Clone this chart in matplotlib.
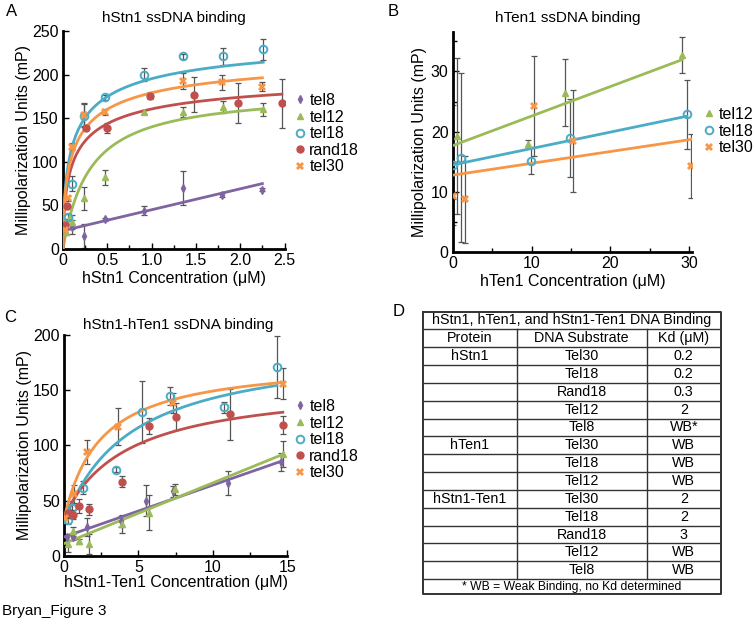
import numpy as np
import matplotlib.pyplot as plt
from matplotlib.ticker import MultipleLocator

plt.rcParams['font.family'] = ['Liberation Sans', 'DejaVu Sans']
plt.rcParams['font.size'] = 11

# Office palette, one colour per substrate
COLORS = {'tel8': '#8064A2', 'tel12': '#9BBB59', 'tel18': '#4BACC6',
          'rand18': '#C0504D', 'tel30': '#F79646'}
MARKERS = {'tel8': dict(marker='d', ms=4, mfc=COLORS['tel8']),
           'tel12': dict(marker='^', ms=4.5, mfc=COLORS['tel12']),
           'tel18': dict(marker='o', ms=5.5, mfc='none', mew=1.4),
           'rand18': dict(marker='o', ms=5, mfc=COLORS['rand18']),
           'tel30': dict(marker='X', ms=6, mfc=COLORS['tel30'], mew=0)}

# ---- panel A: hStn1 ----
a_tel8_x = [0.0, 0.1, 0.24, 0.47, 0.91, 1.35, 1.80, 2.25]
a_tel8_y = [22, 25, 15, 34, 44, 70, 62, 68]
a_tel8_err = [3, 8, 14, 2, 5, 19, 2, 2]
a_tel12_x = [0.03, 0.1, 0.24, 0.47, 0.91, 1.36, 1.81, 2.26]
a_tel12_y = [20, 31, 58, 82, 157, 157, 163, 160]
a_tel12_err = [4, 8, 13, 9, 2, 6, 7, 7]
a_tel18_x = [0.0, 0.06, 0.105, 0.24, 0.47, 0.91, 1.36, 1.81, 2.26]
a_tel18_y = [25, 37, 75, 153, 174, 200, 221, 221, 229]
a_tel18_err = [2, 3, 9, 13, 3, 7, 3, 10, 12]
a_rand18_x = [0.025, 0.05, 0.26, 0.5, 0.98, 1.48, 1.97, 2.47]
a_rand18_y = [27, 49, 139, 139, 176, 177, 167, 167]
a_rand18_err = [3, 3, 3, 6, 4, 20, 23, 28]
a_tel30_x = [0.02, 0.06, 0.1, 0.24, 0.47, 1.35, 1.80, 2.25]
a_tel30_y = [22, 58, 117, 154, 157, 193, 191, 186]
a_tel30_err = [3, 3, 4, 13, 3, 9, 9, 5]
# fit parameters: Hill (Bmax, K, n) or straight line (intercept, slope)
a_fit_hill = {'tel12': (182, 0.30, 1.0), 'tel18': (253, 0.131, 0.6),
              'rand18': (208, 0.131, 0.6), 'tel30': (232, 0.131, 0.6)}
a_fit_line = {'tel8': (21, 24)}

# ---- panel B: hTen1 ----
b_tel12_x = [0.6, 9.5, 14.3, 29.1]
b_tel12_y = [19.3, 18.0, 26.5, 32.8]
b_tel12_err = [13, 0.6, 5.5, 3]
b_tel18_x = [0.0, 1.05, 9.9, 14.9, 29.7]
b_tel18_y = [14.5, 15.7, 15.2, 19.0, 22.9]
b_tel18_err = [10, 14, 2.2, 6.5, 5.7]
b_tel30_x = [0.1, 1.6, 10.35, 15.3, 30.2]
b_tel30_y = [9.4, 8.8, 24.3, 18.5, 14.3]
b_tel30_err = [0.5, 7.2, 8.3, 8.5, 5.3]
b_fit_line = {'tel12': (17.7, 0.49), 'tel18': (14.5, 0.272), 'tel30': (12.8, 0.196)}

# ---- panel C: hStn1-Ten1 ----
c_tel8_x = [0.2, 0.6, 1.52, 3.8, 5.5, 7.3, 11.0, 14.6]
c_tel8_y = [17, 17, 26, 31, 50, 58.6, 65.6, 85]
c_tel8_err = [3, 3, 8, 5, 14, 5, 11, 8]
c_tel12_x = [0.3, 0.6, 1.0, 1.7, 3.9, 5.7, 7.45, 14.7]
c_tel12_y = [11, 22, 13, 10.6, 29, 39, 60, 92]
c_tel12_err = [8, 4, 2, 9, 8, 16, 5, 12]
c_tel18_x = [0.29, 0.52, 1.3, 3.47, 5.26, 7.12, 10.75, 14.3]
c_tel18_y = [32, 43, 61.6, 78, 130.5, 144.7, 134.5, 170.7]
c_tel18_err = [3, 4, 6, 2, 28, 8, 5, 28]
c_rand18_x = [0.29, 0.63, 1.0, 1.7, 3.87, 5.7, 7.5, 11.15, 14.7]
c_rand18_y = [38.5, 37, 45, 42, 67, 117.5, 126, 128, 118.5]
c_rand18_err = [4, 4, 6, 5, 5, 7, 12, 23, 8]
c_tel30_x = [0.07, 0.7, 1.52, 3.65, 7.3, 14.7]
c_tel30_y = [34, 56, 94, 117, 138, 156]
c_tel30_err = [4, 8, 11, 17, 9, 14]
# hyperbola with offset (y0, Bmax, K) or straight line (intercept, slope)
c_fit_hyp = {'tel18': (30, 163, 4.46), 'rand18': (35, 122.8, 4.3),
             'tel30': (33, 144.7, 2.45)}
c_fit_line = {'tel8': (17, 4.7), 'tel12': (11, 5.5)}

# ---- panel D table ----
table_title = 'hStn1, hTen1, and hStn1-Ten1 DNA Binding'
table_header = ['Protein', 'DNA Substrate', 'Kd (\u03bcM)']
proteins = ['hStn1', '', '', '', '', 'hTen1', '', '', 'hStn1-Ten1', '', '', '', '']
substrates = ['Tel30', 'Tel18', 'Rand18', 'Tel12', 'Tel8', 'Tel30', 'Tel18',
              'Tel12', 'Tel30', 'Tel18', 'Rand18', 'Tel12', 'Tel8']
kd_values = ['0.2', '0.2', '0.3', '2', 'WB*', 'WB', 'WB', 'WB', '2', '2', '3', 'WB', 'WB']
table_note = '* WB = Weak Binding, no Kd determined'


W, H = 754, 635
fig = plt.figure(figsize=(W / 100, H / 100), dpi=100)


def px_axes(left, top, right, bottom):
    return fig.add_axes([left / W, 1 - bottom / H, (right - left) / W, (bottom - top) / H])


def style_axes(ax):
    for s in ['top', 'right']:
        ax.spines[s].set_visible(False)
    for s in ['left', 'bottom']:
        ax.spines[s].set_linewidth(2)
    ax.tick_params(which='major', direction='in', length=4, width=1, labelsize=11.5, pad=3)
    ax.tick_params(which='minor', direction='in', length=3, width=1)


def plot_series(ax, name, x, y, err):
    ax.errorbar(x, y, yerr=err, fmt='none', ecolor='#555555', elinewidth=0.9,
                capsize=2, capthick=0.9, zorder=2)
    ax.plot(x, y, ls='none', color=COLORS[name], label=name, zorder=4, **MARKERS[name])


def add_legend(ax, x, y):
    ax.legend(loc='upper left', bbox_to_anchor=(x / W, 1 - y / H), bbox_transform=fig.transFigure,
              frameon=False, fontsize=11.5, handlelength=0.6, handletextpad=0.3,
              labelspacing=0.1, borderaxespad=0, borderpad=0)


# A
axA = px_axes(63, 31, 284.5, 249)
series_a = [('tel8', a_tel8_x, a_tel8_y, a_tel8_err), ('tel12', a_tel12_x, a_tel12_y, a_tel12_err),
            ('tel18', a_tel18_x, a_tel18_y, a_tel18_err), ('rand18', a_rand18_x, a_rand18_y, a_rand18_err),
            ('tel30', a_tel30_x, a_tel30_y, a_tel30_err)]
for name, x, y, err in series_a:
    xs = np.linspace(0, max(x), 300)
    if name in a_fit_hill:
        bmax, k, n = a_fit_hill[name]
        ys = bmax * xs ** n / (k ** n + xs ** n)
    else:
        b0, b1 = a_fit_line[name]
        ys = b0 + b1 * xs
    axA.plot(xs, ys, color=COLORS[name], lw=2, zorder=3)
    plot_series(axA, name, x, y, err)
axA.set_xlim(0, 2.5)
axA.set_ylim(0, 250)
axA.xaxis.set_major_locator(MultipleLocator(0.5))
axA.xaxis.set_minor_locator(MultipleLocator(0.25))
axA.yaxis.set_major_locator(MultipleLocator(50))
axA.xaxis.set_major_formatter(plt.FuncFormatter(lambda v, p: '0' if v == 0 else f'{v:.1f}'))
axA.set_xlabel('hStn1 Concentration (\u03bcM)', fontsize=11.5, labelpad=2)
axA.set_ylabel('Millipolarization Units (mP)', fontsize=11.5, labelpad=1)
style_axes(axA)
add_legend(axA, 295, 93)
fig.text(174 / W, 1 - 18 / H, 'hStn1 ssDNA binding', ha='center', va='center', fontsize=11)
fig.text(6 / W, 1 - 12 / H, 'A', ha='left', va='center', fontsize=12)

# B
axB = px_axes(452.7, 31.7, 692, 252.3)
series_b = [('tel12', b_tel12_x, b_tel12_y, b_tel12_err), ('tel18', b_tel18_x, b_tel18_y, b_tel18_err),
            ('tel30', b_tel30_x, b_tel30_y, b_tel30_err)]
for name, x, y, err in series_b:
    b0, b1 = b_fit_line[name]
    xs = np.array([0, max(x)])
    axB.plot(xs, b0 + b1 * xs, color=COLORS[name], lw=2, zorder=3)
    plot_series(axB, name, x, y, err)
axB.set_xlim(0, 30.35)
axB.set_ylim(0, 36.6)
axB.xaxis.set_major_locator(MultipleLocator(10))
axB.xaxis.set_minor_locator(MultipleLocator(5))
axB.yaxis.set_major_locator(MultipleLocator(10))
axB.yaxis.set_minor_locator(MultipleLocator(5))
axB.set_xlabel('hTen1 Concentration (\u03bcM)', fontsize=11.5, labelpad=2)
axB.set_ylabel('Millipolarization Units (mP)', fontsize=11.5, labelpad=3)
style_axes(axB)
add_legend(axB, 704, 107)
fig.text(568 / W, 1 - 18 / H, 'hTen1 ssDNA binding', ha='center', va='center', fontsize=11)
fig.text(388 / W, 1 - 12 / H, 'B', ha='left', va='center', fontsize=12)

# C
axC = px_axes(64, 335, 287.3, 555.7)
series_c = [('tel8', c_tel8_x, c_tel8_y, c_tel8_err), ('tel12', c_tel12_x, c_tel12_y, c_tel12_err),
            ('tel18', c_tel18_x, c_tel18_y, c_tel18_err), ('rand18', c_rand18_x, c_rand18_y, c_rand18_err),
            ('tel30', c_tel30_x, c_tel30_y, c_tel30_err)]
for name, x, y, err in series_c:
    xs = np.linspace(0, max(x), 300)
    if name in c_fit_hyp:
        y0, bmax, k = c_fit_hyp[name]
        ys = y0 + bmax * xs / (k + xs)
    else:
        b0, b1 = c_fit_line[name]
        ys = b0 + b1 * xs
    axC.plot(xs, ys, color=COLORS[name], lw=2, zorder=3)
    plot_series(axC, name, x, y, err)
axC.set_xlim(0, 15)
axC.set_ylim(0, 200)
axC.xaxis.set_major_locator(MultipleLocator(5))
axC.xaxis.set_minor_locator(MultipleLocator(2.5))
axC.yaxis.set_major_locator(MultipleLocator(50))
axC.set_xlabel('hStn1-Ten1 Concentration (\u03bcM)', fontsize=11.5, labelpad=0)
axC.set_ylabel('Millipolarization Units (mP)', fontsize=11.5, labelpad=1)
style_axes(axC)
add_legend(axC, 295, 399)
fig.text(178 / W, 1 - 325 / H, 'hStn1-hTen1 ssDNA binding', ha='center', va='center', fontsize=11)
fig.text(4 / W, 1 - 318 / H, 'C', ha='left', va='center', fontsize=12)

fig.text(2 / W, 1 - 611 / H, 'Bryan_Figure 3', ha='left', va='center', fontsize=11)

# D table drawn on a pixel-unit axes
t_left, t_right, t_top, t_bottom = 423, 721, 311.5, 594
col_edges = [t_left, 516.7, 646.7, t_right]
axD = px_axes(t_left, t_top, t_right, t_bottom)
axD.set_xlim(t_left, t_right)
axD.set_ylim(t_bottom, t_top)
axD.axis('off')
fig.text(393 / W, 1 - 312 / H, 'D', ha='left', va='center', fontsize=12)

n_rows = len(substrates)
row_h = (t_bottom - t_top) / (n_rows + 2 + 0.83)
edges = [t_top + i * row_h for i in range(n_rows + 3)] + [t_bottom]
line_kw = dict(color='#333333', lw=1.0)
for yy in edges[1:-1]:
    axD.plot([t_left, t_right], [yy, yy], **line_kw)
for xx in col_edges[1:-1]:
    axD.plot([xx, xx], [edges[1], edges[-2]], **line_kw)
axD.plot([t_left, t_right, t_right, t_left, t_left], [t_top, t_top, t_bottom, t_bottom, t_top],
         color='#333333', lw=1.4, clip_on=False)

centers = [(col_edges[i] + col_edges[i + 1]) / 2 for i in range(3)]
fs = 10.3
axD.text((t_left + t_right) / 2, (edges[0] + edges[1]) / 2, table_title, ha='center', va='center', fontsize=fs)
for c, txt in zip(centers, table_header):
    axD.text(c, (edges[1] + edges[2]) / 2, txt, ha='center', va='center', fontsize=fs)
for i, row in enumerate(zip(proteins, substrates, kd_values)):
    ym = (edges[i + 2] + edges[i + 3]) / 2
    for c, txt in zip(centers, row):
        axD.text(c, ym, txt, ha='center', va='center', fontsize=fs)
axD.text((t_left + t_right) / 2, (edges[-2] + edges[-1]) / 2, table_note, ha='center', va='center', fontsize=8.7)

fig.savefig('out.png', dpi=100)
